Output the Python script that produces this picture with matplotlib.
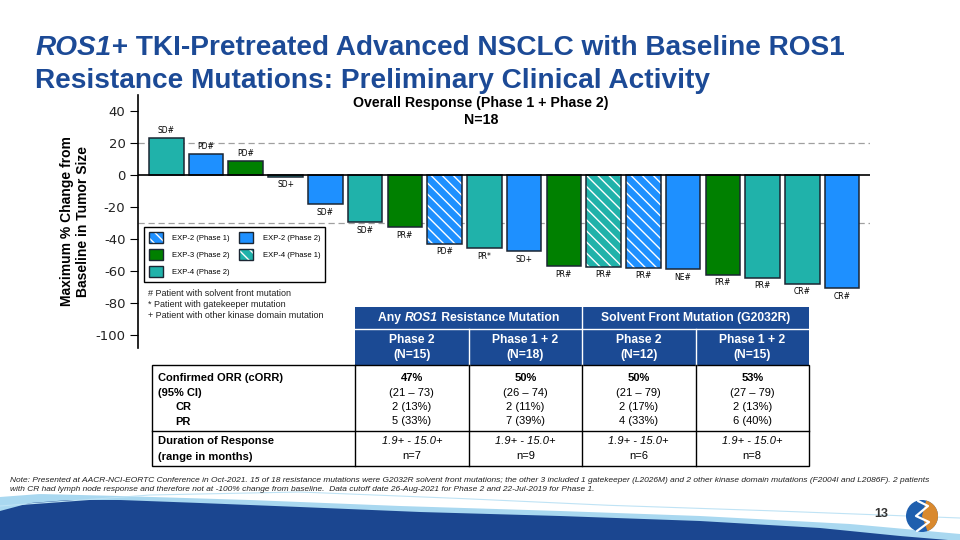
import numpy as np
import matplotlib
matplotlib.use('Agg')
import matplotlib.pyplot as plt
from matplotlib.patches import Patch, Rectangle, Wedge, Circle
from matplotlib.legend_handler import HandlerTuple

plt.rcParams['font.family'] = ['Liberation Sans', 'DejaVu Sans']
plt.rcParams['hatch.linewidth'] = 1.0

# ---- waterfall data (one bar per patient) ----
best_change = [23, 13, 9, -1, -18.3, -29.5, -32.7, -42.9, -45.8, -47.5,
               -56.9, -57.3, -57.9, -58.8, -62.1, -64.2, -67.9, -70.8]
response = ['SD#', 'PD#', 'PD#', 'SD+', 'SD#', 'SD#', 'PR#', 'PD#', 'PR*', 'SD+',
            'PR#', 'PR#', 'PR#', 'NE#', 'PR#', 'PR#', 'CR#', 'CR#']
cohort = ['EXP-4 (Phase 2)', 'EXP-2 (Phase 2)', 'EXP-3 (Phase 2)', 'EXP-4 (Phase 2)',
          'EXP-2 (Phase 2)', 'EXP-4 (Phase 2)', 'EXP-3 (Phase 2)', 'EXP-2 (Phase 1)',
          'EXP-4 (Phase 2)', 'EXP-2 (Phase 2)', 'EXP-3 (Phase 2)', 'EXP-4 (Phase 1)',
          'EXP-2 (Phase 1)', 'EXP-2 (Phase 2)', 'EXP-3 (Phase 2)', 'EXP-4 (Phase 2)',
          'EXP-4 (Phase 2)', 'EXP-2 (Phase 2)']
yticks = [40, 20, 0, -20, -40, -60, -80, -100]
ref_lines = [20, -30]

cohort_style = {
    'EXP-2 (Phase 1)': ('#1E90FF', True),
    'EXP-2 (Phase 2)': ('#1E90FF', False),
    'EXP-3 (Phase 2)': ('#008000', False),
    'EXP-4 (Phase 1)': ('#20B2AA', True),
    'EXP-4 (Phase 2)': ('#20B2AA', False),
}
legend_order = ['EXP-2 (Phase 1)', 'EXP-3 (Phase 2)', 'EXP-4 (Phase 2)',
                'EXP-2 (Phase 2)', 'EXP-4 (Phase 1)']
mutation_notes = ['# Patient with solvent front mutation',
                  '* Patient with gatekeeper mutation',
                  '+ Patient with other kinase domain mutation']

# ---- table data ----
group_headers = ['Any |ROS1| Resistance Mutation', 'Solvent Front Mutation (G2032R)']
col_headers = ['Phase 2\n(N=15)', 'Phase 1 + 2\n(N=18)', 'Phase 2\n(N=12)', 'Phase 1 + 2\n(N=15)']
orr = ['47%', '50%', '50%', '53%']
orr_ci = ['(21 – 73)', '(26 – 74)', '(21 – 79)', '(27 – 79)']
cr = ['2 (13%)', '2 (11%)', '2 (17%)', '2 (13%)']
pr = ['5 (33%)', '7 (39%)', '4 (33%)', '6 (40%)']
dor_range = ['1.9+ - 15.0+', '1.9+ - 15.0+', '1.9+ - 15.0+', '1.9+ - 15.0+']
dor_n = ['n=7', 'n=9', 'n=6', 'n=8']

note = ('Note: Presented at AACR-NCI-EORTC Conference in Oct-2021. 15 of 18 resistance mutations were '
        'G2032R solvent front mutations; the other 3 included 1 gatekeeper (L2026M) and 2 other kinase '
        'domain mutations (F2004I and L2086F). 2 patients\nwith CR had lymph node response and therefore '
        'not at -100% change from baseline.  Data cutoff date 26-Aug-2021 for Phase 2 and 22-Jul-2019 for Phase 1.')

NAVY = '#1C4A96'
EDGE = '#1B2633'
HATCH = '\\\\\\'
W, H = 960, 540

fig = plt.figure(figsize=(9.6, 5.4), dpi=100)
fig.patch.set_facecolor('white')

# background decoration (pixel coordinates)
bg = fig.add_axes([0, 0, 1, 1], zorder=-5)
bg.set_xlim(0, W); bg.set_ylim(H, 0); bg.axis('off')
xs = np.linspace(0, W, 200)
top_dark = np.interp(xs, [0, 30, 70, 120, 200, 300, 420, 560, 700, 820, 900, 960],
                     [511, 503, 500, 500, 503, 507, 512, 516, 521, 528, 536, 541])
top_light = np.interp(xs, [0, 40, 120, 250, 400, 560, 700, 850, 960],
                      [497, 494, 496, 500, 506, 511, 516, 524, 534])
bg.fill_between(xs, top_light, H, color='#A9D8F0', lw=0)
bg.fill_between(xs, top_dark, H, color='#1B4690', lw=0)
bg.plot(xs, np.interp(xs, [0, 150, 300, 450, 600, 750, 960], [506, 495, 492, 498, 505, 510, 518]),
        color='#BFE3F5', lw=0.8)

# ---- main chart ----
ax = fig.add_axes([138 / W, 1 - 348 / H, (870 - 138) / W, (348 - 95) / H])
x = np.arange(len(best_change))
colors = [cohort_style[c][0] for c in cohort]
hatched = [cohort_style[c][1] for c in cohort]
for xi, v, c, h in zip(x, best_change, colors, hatched):
    if h:
        ax.bar(xi, v, width=0.87, color=c, edgecolor='white', hatch=HATCH, lw=0, zorder=2)
        ax.bar(xi, v, width=0.87, fill=False, edgecolor=EDGE, lw=1.1, zorder=3)
    else:
        ax.bar(xi, v, width=0.87, color=c, edgecolor=EDGE, lw=1.1, zorder=2)
for xi, v, lab in zip(x, best_change, response):
    if v >= 0:
        ax.annotate(lab, (xi, v), xytext=(0, 2), textcoords='offset points',
                    ha='center', va='bottom', fontsize=5.5, family='DejaVu Sans')
    else:
        ax.annotate(lab, (xi, v), xytext=(0, -2.5), textcoords='offset points',
                    ha='center', va='top', fontsize=5.5, family='DejaVu Sans')
for r in ref_lines:
    ax.axhline(r, color='#A0A0A0', lw=0.9, ls=(0, (5, 3)), zorder=1)
ax.axhline(0, color='black', lw=1.2, zorder=4)
ax.set_xlim(-0.71, 17.70)
ax.set_ylim(-108, 50)
ax.set_yticks(yticks)
ax.set_yticklabels([str(t) for t in yticks], family='DejaVu Sans', fontsize=9.5, color='#222222')
ax.tick_params(axis='y', length=6, width=0.8, pad=3)
ax.set_xticks([])
for s in ['top', 'right', 'bottom']:
    ax.spines[s].set_visible(False)
ax.spines['left'].set_linewidth(1.2)
ax.set_ylabel('Maximum % Change from\nBaseline in Tumor Size', fontsize=10, fontweight='bold',
              linespacing=1.15)
ax.yaxis.set_label_coords(-0.066, 0.5)
ax.patch.set_alpha(0)

handles = []
for name in legend_order:
    c, h = cohort_style[name]
    if h:
        handles.append((Patch(facecolor=c, edgecolor='white', hatch=HATCH, lw=0),
                        Patch(fill=False, edgecolor=EDGE, lw=1)))
    else:
        handles.append(Patch(facecolor=c, edgecolor=EDGE, lw=1))
leg = ax.legend(handles, legend_order, ncol=2, loc='upper left',
                bbox_to_anchor=(144 / W, 1 - 227 / H), bbox_transform=fig.transFigure,
                fontsize=5.5, frameon=True, fancybox=False, framealpha=1, edgecolor='black',
                handlelength=1.9, handleheight=1.9, labelspacing=0.75, columnspacing=1.2,
                handletextpad=1.2, borderpad=0.6, borderaxespad=0,
                handler_map={tuple: HandlerTuple(ndivide=1, pad=0)})
leg.get_frame().set_linewidth(1.0)

# ---- overlay in pixel coordinates for titles / table / notes ----
ov = fig.add_axes([0, 0, 1, 1], zorder=10)
ov.set_xlim(0, W); ov.set_ylim(H, 0); ov.axis('off')
renderer = fig.canvas.get_renderer()


def rich(x0, y0, parts, ha='left', **kw):
    """Draw a line of text built from pieces in different styles."""
    items = []
    for s, extra in parts:
        t = ov.text(0, y0, s, ha='left', **kw, **extra)
        items.append((t, t.get_window_extent(renderer).width))
    total = sum(w for _, w in items)
    cur = x0 - total / 2 if ha == 'center' else x0
    for t, w in items:
        t.set_x(cur)
        cur += w


rich(35, 55, [('ROS1+', dict(style='italic')),
              (' TKI-Pretreated Advanced NSCLC with Baseline ROS1', {})],
     fontsize=20.2, fontweight='bold', color=NAVY, va='baseline')
ov.text(35, 88, 'Resistance Mutations: Preliminary Clinical Activity', fontsize=20.2,
        fontweight='bold', color=NAVY, va='baseline')

ov.text(481, 103, 'Overall Response (Phase 1 + Phase 2)', ha='center', va='center',
        fontsize=10.2, fontweight='bold')
ov.text(481, 120, 'N=18', ha='center', va='center', fontsize=10.2, fontweight='bold')

for i, s in enumerate(mutation_notes):
    ov.text(148, 294 + i * 10.5, s, fontsize=6.5, va='center', color='#222222')

# table geometry
col_edges = [355, 468.5, 582, 695.5, 809]
lab_left = 152
hdr_top, hdr_mid, body_top, body_mid, body_bot = 307, 329, 365, 431, 466
ov.add_patch(Rectangle((col_edges[0], hdr_top), col_edges[-1] - col_edges[0], body_top - hdr_top,
                       facecolor='#1B4A94', edgecolor='none'))
ov.plot([col_edges[0], col_edges[-1]], [hdr_mid, hdr_mid], color='white', lw=1)
ov.plot([col_edges[2]] * 2, [hdr_top, body_top], color='white', lw=1)
for e in (col_edges[1], col_edges[3]):
    ov.plot([e, e], [hdr_mid, body_top], color='white', lw=1)
ov.add_patch(Rectangle((lab_left, body_top), col_edges[-1] - lab_left, body_bot - body_top,
                       fill=False, edgecolor='black', lw=1))
ov.plot([lab_left, col_edges[-1]], [body_mid, body_mid], color='black', lw=1)
for e in col_edges[:-1]:
    ov.plot([e, e], [body_top, body_bot], color='black', lw=1)

for j, g in enumerate(group_headers):
    cx = (col_edges[2 * j] + col_edges[2 * j + 2]) / 2
    pieces = g.split('|')
    parts = [(p, dict(style='italic') if k % 2 else {}) for k, p in enumerate(pieces)]
    rich(cx, 318, parts, ha='center', fontsize=8.7, fontweight='bold', color='white', va='center')

centers = [(col_edges[k] + col_edges[k + 1]) / 2 for k in range(4)]
for k, cx in enumerate(centers):
    l1, l2 = col_headers[k].split('\n')
    ov.text(cx, 340, l1, ha='center', va='center', fontsize=8.7, fontweight='bold', color='white')
    ov.text(cx, 355, l2, ha='center', va='center', fontsize=8.7, fontweight='bold', color='white')
    ov.text(cx, 378, orr[k], ha='center', va='center', fontsize=8, fontweight='bold')
    ov.text(cx, 392.5, orr_ci[k], ha='center', va='center', fontsize=8)
    ov.text(cx, 406.5, cr[k], ha='center', va='center', fontsize=8)
    ov.text(cx, 421, pr[k], ha='center', va='center', fontsize=8)
    ov.text(cx, 441, dor_range[k], ha='center', va='center', fontsize=8, style='italic')
    ov.text(cx, 456, dor_n[k], ha='center', va='center', fontsize=8)

row_labels = [('Confirmed ORR (cORR)', 158, 378), ('(95% CI)', 158, 393),
              ('CR', 175, 407.5), ('PR', 175, 422),
              ('Duration of Response', 158, 441), ('(range in months)', 158, 457)]
for s, lx, ly in row_labels:
    ov.text(lx, ly, s, va='center', fontsize=8, fontweight='bold')

ov.text(10, 485, note, fontsize=6.05, style='italic', va='center', color='#222222', linespacing=1.35)

# page number and logo
ov.text(881, 514, '13', fontsize=9, fontweight='bold', color='#333333', ha='center', va='center')
ov.add_patch(Circle((922, 516), 16, facecolor='#1F5FAE', edgecolor='none'))
ov.add_patch(Wedge((922, 516), 16, -75, 70, facecolor='#D9892E', edgecolor='none'))
ov.plot([918, 928, 916, 929, 917], [501, 506, 516, 522, 531], color='white', lw=1.6,
        solid_capstyle='round')

fig.savefig('out.png', dpi=100, facecolor='white')
